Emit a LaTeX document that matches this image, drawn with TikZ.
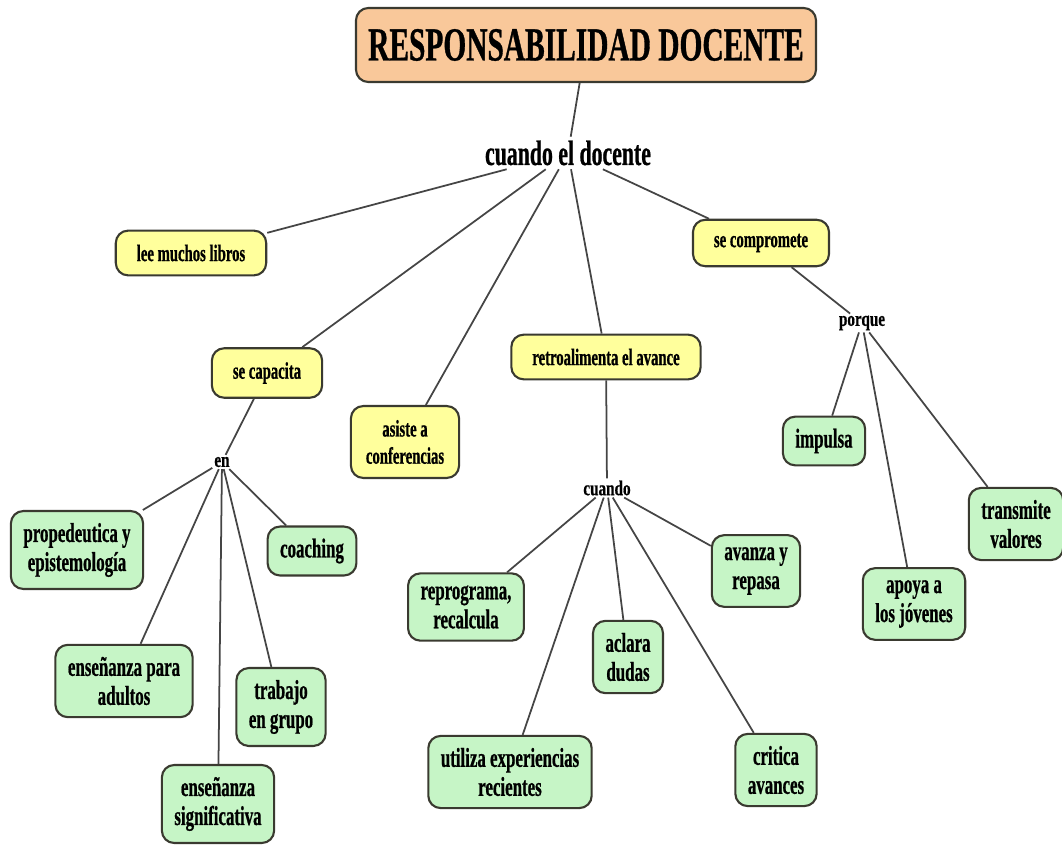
\documentclass[tikz,border=0pt]{standalone}
\usepackage{fontspec}
\usepackage{tikz}
\usetikzlibrary{positioning}
\newfontfamily\mapfont{Liberation Serif Bold}[FakeStretch=0.62,FakeBold=0.7]
\newfontfamily\linkfont{Liberation Serif Bold}[FakeStretch=0.72,FakeBold=0.6]
\definecolor{titlefill}{HTML}{F9C89A}
\definecolor{yelfill}{HTML}{FFFF9C}
\definecolor{grnfill}{HTML}{C6F5C6}
\definecolor{rim}{HTML}{3A3A30}
\definecolor{wire}{HTML}{454545}

\begin{document}
\begin{tikzpicture}[
    concept/.style={draw=rim,line width=1.2pt,rounded corners=7pt,align=center,
      inner xsep=0.42cm,inner ysep=0.28cm,minimum height=0.88cm,
      font=\mapfont\fontsize{13.5}{15.5}\selectfont},
    yel/.style={concept,fill=yelfill},
    grn/.style={concept,fill=grnfill,inner xsep=0.25cm,inner ysep=0.24cm,
      font=\mapfont\fontsize{15.5}{16.5}\selectfont},
    link/.style={inner sep=1pt,font=\linkfont\fontsize{12}{14}\selectfont},
    wire/.style={draw=wire,line width=1pt}
  ]
      \useasboundingbox (0,0) rectangle (21.24,-17);

      % top level
      \node[concept,fill=titlefill,inner xsep=0.2cm,minimum width=9.2cm,minimum height=1.48cm,
        font=\mapfont\fontsize{27}{29}\selectfont] (resp) at (11.72,-0.9) {RESPONSABILIDAD DOCENTE};
      \node[inner sep=2pt,font=\mapfont\fontsize{20}{22}\selectfont] (docente) at (11.36,-3.06) {cuando el docente};

      \node[yel] (libros) at (3.82,-5.06) {lee muchos libros};
      \node[yel] (compromete) at (15.22,-4.86) {se compromete};
      \node[yel] (capacita) at (5.34,-7.46) {se capacita};
      \node[yel] (retro) at (12.12,-7.14) {retroalimenta el avance};
      \node[yel,inner xsep=0.3cm] (asiste) at (8.10,-8.84) {asiste a\\conferencias};

      % linking words
      \node[link] (porque) at (17.24,-6.46) {porque};
      \node[link] (en) at (4.44,-9.24) {en};
      \node[link] (cuando) at (12.14,-9.76) {cuando};

      % se compromete
      \node[grn] (impulsa) at (16.48,-8.82) {impulsa};
      \node[grn] (apoya) at (18.28,-12.08) {apoya a\\los jóvenes};
      \node[grn] (transmite) at (20.32,-10.48) {transmite\\valores};

      % se capacita
      \node[grn] (prope) at (1.54,-11.0) {propedeutica y\\epistemología};
      \node[grn] (coaching) at (6.24,-11.02) {coaching};
      \node[grn] (adultos) at (2.48,-13.62) {enseñanza para\\adultos};
      \node[grn] (trabajo) at (5.62,-14.14) {trabajo\\en grupo};
      \node[grn] (signif) at (4.36,-16.08) {enseñanza\\significativa};

      % retroalimenta
      \node[grn] (reprograma) at (9.32,-12.14) {reprograma,\\recalcula};
      \node[grn] (aclara) at (12.56,-13.14) {aclara\\dudas};
      \node[grn] (avanza) at (15.12,-11.42) {avanza y\\repasa};
      \node[grn] (utiliza) at (10.2,-15.44) {utiliza experiencias\\recientes};
      \node[grn] (critica) at (15.52,-15.4) {critica\\avances};

      \draw[wire] (resp) -- (docente);
      \foreach \n in {libros,capacita,asiste,retro,compromete}
        \draw[wire] (docente) -- (\n);
      \draw[wire] (compromete) -- (porque);
      \foreach \n in {impulsa,apoya,transmite}
        \draw[wire] (porque) -- (\n);
      \draw[wire] (capacita) -- (en);
      \foreach \n in {prope,adultos,signif,trabajo,coaching}
        \draw[wire] (en) -- (\n);
      \draw[wire] (retro) -- (cuando);
      \foreach \n in {reprograma,utiliza,aclara,critica,avanza}
        \draw[wire] (cuando) -- (\n);
    \end{tikzpicture}
\end{document}
